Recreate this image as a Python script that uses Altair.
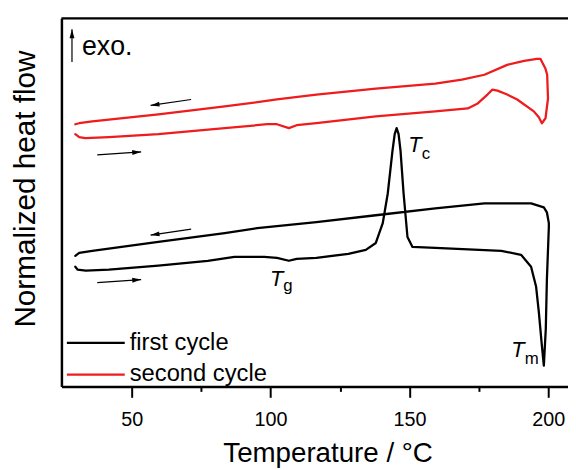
import altair as alt
import pandas as pd

# ---- data (temperature in °C, heat flow in arbitrary units) ----
first_T = [29.7, 30.5, 33.5, 41.8, 59.6, 77.4, 87.0, 97.7, 102.3, 106.6, 109.4, 116.5, 128.0,
           134.3, 137.9, 140.4, 142.2, 143.9, 144.7, 145.4, 146.1, 146.8, 147.9, 149.3, 151.1,
           159.3, 183.1, 190.2, 193.8, 195.6, 196.6, 197.7, 198.4, 199.1, 199.5, 200.2,
           200.2, 199.5, 198.4, 193.8, 177.0, 159.3, 137.9, 116.5, 95.2, 83.5, 59.6, 35.8, 31.1, 29.7]
first_y = [121, 118, 117, 118, 122, 127, 131, 131, 130, 127, 129, 130, 134,
           138, 145, 165, 195, 238, 255, 261, 255, 238, 195, 151, 141,
           140, 137, 133, 121, 101, 75, 41, 21, 58, 108, 161,
           165, 176, 181, 185, 185, 180, 173, 166, 160, 155, 146, 137, 135, 132]

second_T = [29.7, 31.1, 33.3, 41.8, 59.6, 83.5, 98.8, 102.3, 106.6, 109.4, 116.5, 137.9, 159.3,
            171.0, 174.6, 178.1, 179.9, 181.7, 185.2, 188.8, 194.8, 196.6, 197.7,
            199.0, 199.9, 199.6, 199.0, 197.2,
            195.9, 191.3, 185.2, 177.0, 168.9, 159.3, 137.9, 116.5, 102.3, 83.5, 59.6, 35.8, 31.1, 29.7]
second_y = [255, 252, 251, 252, 255, 261, 265, 265, 261, 264, 266, 273, 278,
            281, 286, 295, 300, 299, 295, 290, 278, 272, 266,
            271, 291, 315, 321, 331,
            331, 329, 325, 315, 310, 306, 301, 295, 290, 283, 275, 268, 266, 265]

series_names = ["first cycle", "second cycle"]
series_colors = ["#000000", "#ee1c1c"]

# direction arrows: tail (x1, y1) -> head (x2, y2)
arrow_x1 = [71.4, 37.6, 71.4, 37.6, 28.5]
arrow_y1 = [290, 234, 159, 105, 328]
arrow_x2 = [56.8, 53.4, 56.8, 53.4, 28.5]
arrow_y2 = [284, 237, 153, 108, 361]
arrow_ang = [352, 176, 352, 176, 90]

# annotation labels
sym_x = [149.6, 99.8, 186.7]
sym_y = [237, 101, 30]
sym_text = ["T", "T", "T"]
sub_x = [154.4, 104.6, 191.5]
sub_y = [230, 96, 23]
sub_text = ["c", "g", "m"]
exo_x = [32.1]
exo_y = [335]
exo_text = ["exo."]

x_ticks = [50, 75, 100, 125, 150, 175, 200]

rows = []
for name, Ts, Ys in [(series_names[0], first_T, first_y), (series_names[1], second_T, second_y)]:
    for i, (t, v) in enumerate(zip(Ts, Ys)):
        rows.append({"T": t, "y": v, "series": name, "idx": i})
df = pd.DataFrame(rows)

arrows = pd.DataFrame({"x1": arrow_x1, "y1": arrow_y1, "x2": arrow_x2, "y2": arrow_y2, "ang": arrow_ang})
syms = pd.DataFrame({"x": sym_x, "y": sym_y, "t": sym_text})
subs = pd.DataFrame({"x": sub_x, "y": sub_y, "t": sub_text})
exo = pd.DataFrame({"x": exo_x, "y": exo_y, "t": exo_text})

W, H = 512, 372
FONT = "Liberation Sans"
xscale = alt.Scale(domain=[24.7, 207.1], nice=False, zero=False)
yscale = alt.Scale(domain=[0, 372], nice=False, zero=False)

x_axis = alt.Axis(title="Temperature / °C", values=x_ticks, grid=False,
                  domainWidth=2.5, domainColor="black",
                  tickColor="black", tickWidth=2,
                  tickSize={"condition": {"test": "datum.value % 50 !== 0", "value": 5}, "value": 11},
                  labelExpr="datum.value % 50 === 0 ? datum.label : ''",
                  labelFont=FONT, labelFontSize=20, labelColor="black", labelPadding=13,
                  titleFont=FONT, titleFontSize=28, titleFontWeight="normal", titleColor="black",
                  titleX=269, titleY=76, titleBaseline="alphabetic")
y_axis = alt.Axis(title="Normalized heat flow", ticks=False, labels=False, grid=False,
                  domainWidth=2.5, domainColor="black",
                  titleFont=FONT, titleFontSize=30, titleFontWeight="normal", titleColor="black",
                  titleAngle=270, titleX=-27, titleY=172, titleBaseline="alphabetic",
                  titleAlign="center")

lines = alt.Chart(df).mark_line(strokeWidth=2.3, strokeJoin="round", strokeCap="round").encode(
    x=alt.X("T:Q", scale=xscale, axis=x_axis),
    y=alt.Y("y:Q", scale=yscale, axis=y_axis),
    color=alt.Color("series:N", scale=alt.Scale(domain=series_names, range=series_colors),
                    legend=alt.Legend(title=None, orient="none", legendX=6, legendY=316,
                                      symbolType="M-2.5,0H9.2", symbolSize=100, symbolStrokeWidth=2.3,
                                      labelFont=FONT, labelFontSize=24, labelColor="black",
                                      labelOffset=39, padding=0, rowPadding=8)),
    order=alt.Order("idx:Q"),
)

arrow_lines = alt.Chart(arrows).mark_rule(color="black", strokeWidth=1.2).encode(
    x=alt.X("x1:Q", scale=xscale),
    y=alt.Y("y1:Q", scale=yscale),
    x2="x2:Q", y2="y2:Q",
)
arrow_heads = alt.Chart(arrows).mark_point(
    shape="M0,0L2,-0.55L2,0.55Z", filled=True, color="black", opacity=1, size=81, strokeWidth=0
).encode(
    x=alt.X("x2:Q", scale=xscale),
    y=alt.Y("y2:Q", scale=yscale),
    angle=alt.Angle("ang:Q", scale=None),
)

sym_text_layer = alt.Chart(syms).mark_text(
    font=FONT, fontSize=22, fontStyle="italic", align="left", baseline="alphabetic", color="black"
).encode(x=alt.X("x:Q", scale=xscale), y=alt.Y("y:Q", scale=yscale), text="t:N")

sub_text_layer = alt.Chart(subs).mark_text(
    font=FONT, fontSize=17, align="left", baseline="alphabetic", color="black"
).encode(x=alt.X("x:Q", scale=xscale), y=alt.Y("y:Q", scale=yscale), text="t:N")

exo_layer = alt.Chart(exo).mark_text(
    font=FONT, fontSize=27, align="left", baseline="alphabetic", color="black"
).encode(x=alt.X("x:Q", scale=xscale), y=alt.Y("y:Q", scale=yscale), text="t:N")

top_line = alt.Chart(pd.DataFrame({"a": [0]})).mark_rule(color="black", strokeWidth=2.5).encode(
    x=alt.value(0), x2=alt.value(W), y=alt.value(0)
)

chart = alt.layer(
    lines, arrow_lines, arrow_heads, sym_text_layer, sub_text_layer, exo_layer, top_line
).properties(
    width=W, height=H,
    autosize=alt.AutoSizeParams(type="none"),
    padding={"left": 54, "top": 8, "right": 0, "bottom": 82},
).configure_view(stroke=None).configure(background="white")

chart.save("out.html", embed_options={"renderer": "svg", "actions": False})
